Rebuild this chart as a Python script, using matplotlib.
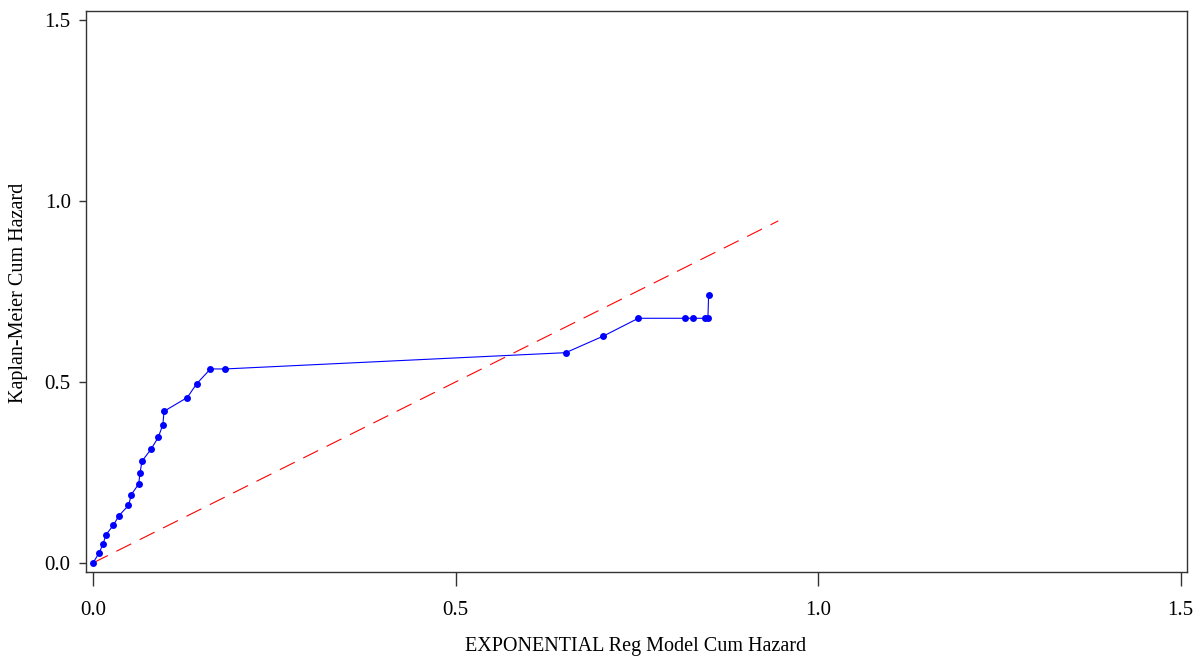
import matplotlib
matplotlib.use("Agg")
import matplotlib.pyplot as plt

# Exponential regression model cumulative hazard vs Kaplan-Meier cumulative hazard
model_cumhaz = [0.0, 0.0083, 0.0138, 0.018, 0.028, 0.036, 0.049, 0.053, 0.063, 0.065,
                0.0675, 0.080, 0.090, 0.0964, 0.098, 0.130, 0.143, 0.162, 0.182,
                0.652, 0.704, 0.752, 0.817, 0.828, 0.844, 0.848, 0.849]
km_cumhaz = [0.0, 0.027, 0.052, 0.078, 0.104, 0.131, 0.159, 0.189, 0.218, 0.249,
             0.281, 0.314, 0.347, 0.382, 0.419, 0.457, 0.495, 0.536, 0.536,
             0.581, 0.627, 0.676, 0.676, 0.676, 0.676, 0.676, 0.740]
ref_line = [0.0, 0.945]

x_ticks = [0.0, 0.5, 1.0, 1.5]
y_ticks = [0.0, 0.5, 1.0, 1.5]
x_label = "EXPONENTIAL Reg Model Cum Hazard"
y_label = "Kaplan-Meier Cum Hazard"

plt.rcParams['font.family'] = ['Liberation Serif', 'DejaVu Serif']

fig = plt.figure(figsize=(12, 6.59), dpi=100)
ax = fig.add_axes([86/1200, 1 - 572/659, (1186.5-86)/1200, (572-11)/659])

ax.plot(ref_line, ref_line, color='red', lw=0.8, dashes=(15, 8.5))
ax.plot(model_cumhaz, km_cumhaz, color='blue', lw=0.8, marker='o', ms=5,
        markeredgewidth=0)

ax.set_xlim(-0.0096, 1.508)
ax.set_ylim(-0.025, 1.525)
ax.set_xticks(x_ticks)
ax.set_yticks(y_ticks)
ax.set_xticklabels([f"{v:.1f}" for v in x_ticks])
ax.set_yticklabels([f"{v:.1f}" for v in y_ticks])
ax.tick_params(axis='x', length=10, width=1, pad=11, labelsize=15, color='#333333')
ax.tick_params(axis='y', length=5, width=1, pad=6, labelsize=15, color='#333333')
for s in ax.spines.values():
    s.set_linewidth(1)
    s.set_color('#333333')

fig.text(635.5/1200, 1 - 647/659, x_label, ha='center', va='center', fontsize=14.5)
fig.text(19/1200, 1 - 293/659, y_label, ha='center', va='center', fontsize=14.5,
         rotation=90)

fig.savefig("out.png", dpi=100)
